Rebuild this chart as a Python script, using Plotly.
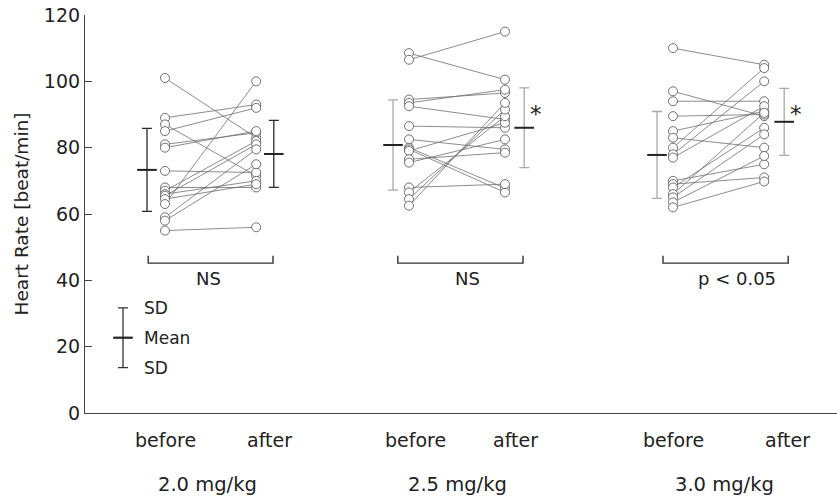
import plotly.graph_objects as go

# ---------------- data ----------------
groups = ["2.0 mg/kg", "2.5 mg/kg", "3.0 mg/kg"]
cond_labels = ["before", "after"]

g1_before = [101, 89, 87, 85, 81, 80, 73, 68, 67, 66, 65.5, 64.5, 63, 59, 58, 55]
g1_after = [83, 93, 71.5, 92, 84.5, 85, 72.5, 68, 82, 70, 81, 69, 100, 79.5, 75, 56]

g2_before = [108.5, 106.5, 94.5, 93.5, 92.5, 86.5, 82.5, 80, 79.5, 79, 76.5, 75.5, 68, 66.5, 64.5, 62.5]
g2_after = [100.5, 115, 96.5, 97.5, 88.5, 86, 79.5, 67.8, 66.5, 87.5, 78.5, 82.5, 69, 89.5, 91.5, 93.5]

g3_before = [110, 97, 94, 89.5, 85, 83, 80, 78, 77, 70, 69, 68, 66, 65, 63.5, 62]
g3_after = [105, 89.5, 94, 90, 91, 80, 104, 100, 92.5, 75, 71, 86, 90.5, 84, 77.5, 69.8]

mean_before = [73.3, 80.8, 77.8]
sd_before = [12.5, 13.6, 13.1]
mean_after = [78.1, 86.0, 87.8]
sd_after = [10.1, 12.0, 10.1]

significance = ["NS", "NS", "p < 0.05"]
star_after = [False, True, True]

legend_mean = 22.7
legend_sd = 9.0

# ---------------- layout constants ----------------
pos_before = [1.0, 4.05, 7.35]
pos_after = [2.14, 5.25, 8.49]
bar_before = [0.775, 3.85, 7.15]
bar_after = [2.36, 5.49, 8.74]
bracket_l = [0.79, 3.91, 7.225]
bracket_r = [2.35, 5.475, 8.79]
sig_x = [1.54, 4.775, 8.15]
lab_before_x = [1.01, 4.125, 7.36]
lab_after_x = [2.3, 5.375, 8.775]
group_lab_x = [1.53, 4.66, 7.99]
bar_colors = ["#2a2a2a", "#a8a8a8", "#a8a8a8"]

FONT = "DejaVu Sans, sans-serif"
TXT = "#222222"

befores = [g1_before, g2_before, g3_before]
afters = [g1_after, g2_after, g3_after]

fig = go.Figure()

for gi in range(3):
    lx, ly = [], []
    for b, a in zip(befores[gi], afters[gi]):
        lx += [pos_before[gi], pos_after[gi], None]
        ly += [b, a, None]
    fig.add_trace(go.Scatter(x=lx, y=ly, mode="lines",
                             line=dict(color="#6e6e6e", width=0.8),
                             hoverinfo="skip", showlegend=False))
for gi in range(3):
    n = len(befores[gi])
    fig.add_trace(go.Scatter(
        x=[pos_before[gi]] * n + [pos_after[gi]] * n,
        y=befores[gi] + afters[gi], mode="markers",
        marker=dict(symbol="circle", size=9, color="white",
                    line=dict(color="#606060", width=0.9)),
        showlegend=False))

# mean +/- SD bars
for gi in range(3):
    for xp, m, s in [(bar_before[gi], mean_before[gi], sd_before[gi]),
                     (bar_after[gi], mean_after[gi], sd_after[gi])]:
        fig.add_trace(go.Scatter(
            x=[xp], y=[m], mode="markers",
            marker=dict(symbol="line-ew", size=14,
                        line=dict(color="#222222", width=2)),
            error_y=dict(type="data", array=[s], visible=True,
                         color=bar_colors[gi], thickness=1.3, width=5),
            showlegend=False))

# legend glyph
fig.add_trace(go.Scatter(
    x=[0.475], y=[legend_mean], mode="markers",
    marker=dict(symbol="line-ew", size=14, line=dict(color="#222222", width=2.2)),
    error_y=dict(type="data", array=[legend_sd], visible=True,
                 color="#333333", thickness=1.3, width=5),
    showlegend=False))

# brackets
for gi in range(3):
    fig.add_trace(go.Scatter(
        x=[bracket_l[gi], bracket_l[gi], bracket_r[gi], bracket_r[gi]],
        y=[47.4, 45.2, 45.2, 47.4], mode="lines",
        line=dict(color="#333333", width=1.4), hoverinfo="skip",
        showlegend=False))

annotations = []
for gi in range(3):
    annotations.append(dict(x=sig_x[gi], y=40.7, xref="x", yref="y",
                            text=significance[gi], showarrow=False,
                            font=dict(size=18, color=TXT, family=FONT)))
    if star_after[gi]:
        annotations.append(dict(x=bar_after[gi] + 0.05, y=90.3, xref="x", yref="y",
                                text="*", showarrow=False, xanchor="left",
                                font=dict(size=23, color=TXT, family=FONT)))
    annotations.append(dict(x=lab_before_x[gi], y=0, yshift=-27, xref="x",
                            yref="paper", text=cond_labels[0], showarrow=False,
                            yanchor="middle",
                            font=dict(size=19, color=TXT, family=FONT)))
    annotations.append(dict(x=lab_after_x[gi], y=0, yshift=-27, xref="x",
                            yref="paper", text=cond_labels[1], showarrow=False,
                            yanchor="middle",
                            font=dict(size=19, color=TXT, family=FONT)))
    annotations.append(dict(x=group_lab_x[gi], y=0, yshift=-71, xref="x",
                            yref="paper", text=groups[gi], showarrow=False,
                            yanchor="middle",
                            font=dict(size=19.5, color=TXT, family=FONT)))

for txt, yv in [("SD", legend_mean + legend_sd), ("Mean", legend_mean),
                ("SD", legend_mean - legend_sd)]:
    annotations.append(dict(x=0.71, y=yv, xref="x", yref="y", text=txt,
                            showarrow=False, xanchor="left",
                            font=dict(size=17, color=TXT, family=FONT)))

fig.update_layout(
    width=837, height=497,
    margin=dict(l=85, r=0, t=15, b=84),
    paper_bgcolor="white", plot_bgcolor="white",
    annotations=annotations,
    xaxis=dict(range=[0, 9.4], showgrid=False, zeroline=False,
               showticklabels=False, ticks="", showline=True,
               linecolor="#444444", linewidth=1.2, fixedrange=True),
    yaxis=dict(range=[0, 120], tickvals=[0, 20, 40, 60, 80, 100, 120],
               showgrid=False, zeroline=False, showline=True,
               linecolor="#444444", linewidth=1.2, ticks="inside",
               ticklen=7, tickcolor="#444444",
               tickfont=dict(size=19, color=TXT, family=FONT),
               title=dict(text="Heart Rate [beat/min]", standoff=10,
                          font=dict(size=18.5, color=TXT, family=FONT))),
)

fig.write_html("out.html")
